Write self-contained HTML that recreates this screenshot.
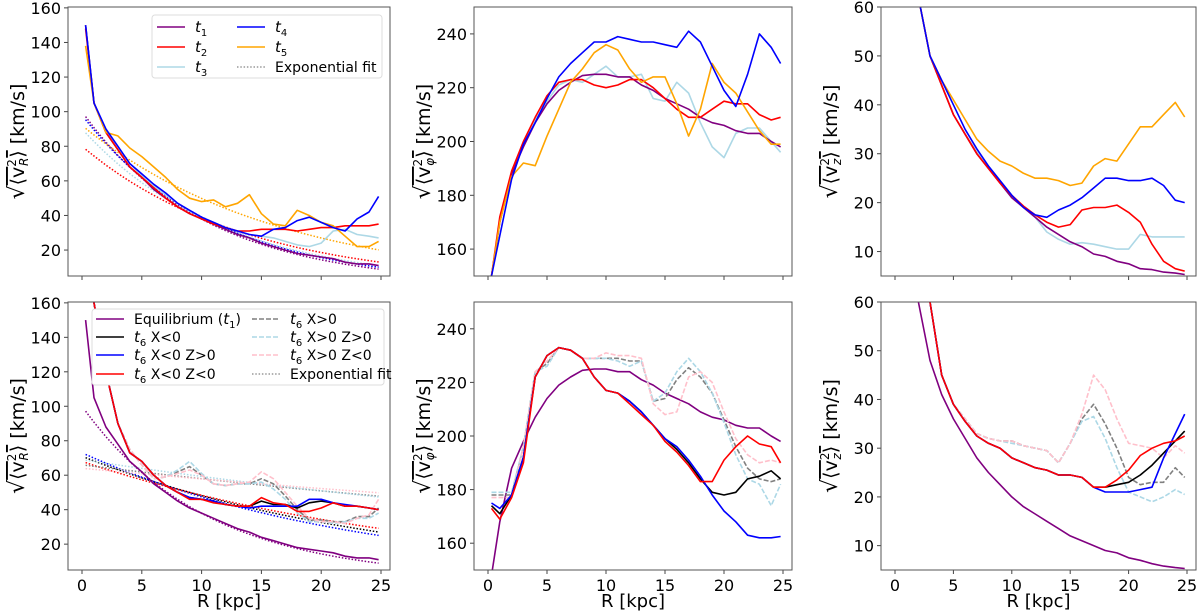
<!DOCTYPE html>
<html><head><meta charset="utf-8"><style>
body{margin:0;background:#fff;}
svg{display:block;font-family:"DejaVu Sans","Liberation Sans",sans-serif;}
</style></head><body>
<svg id="fig" width="1200" height="611" viewBox="0 0 1200 611"></svg>
<script>
const R = [0.3,1,2,3,4,5,6,7,8,9,10,11,12,13,14,15,16,17,18,19,20,21,22,23,24,24.8];
const xTicks = [0,5,10,15,20,25];
const tlT1 = [150,105,88,78,68,62,55,50,45,41,38,35,32,29,27,24,22,20,18,17,16,15,13,12,12,11];
const tlT2 = [148,105,88,78,68,62,56,50,45,41,38,35,33,31,31,32,32,32,31,32,33,33,34,34,34,35];
const tlT3 = [150,105,89,80,70,63,57,52,47,43,39,36,33,31,29,28,27,25,23,22,24,31,32,29,28,27];
const tlT4 = [150,105,90,80,70,64,58,53,47,43,39,36,33,31,29,28,32,33,37,39,36,33,31,38,42,51];
const tlT5 = [138,105,88,86,79,74,68,62,55,50,48,49,45,47,52,41,35,34,43,40,36,34,28,22,22,25];
const tlFitA = [100,80,90,98,92];
const tlFitH = [10.3,13.7,11.8,10.9,16.3];
const tmT1 = [150,170,188,198,207,214,219,222,224.5,225,225,224,224,221,219,216,214,212,209,207,206,204,203,203,200,198];
const tmT2 = [150,172,189,200,209,217,222,223,223,221,220,221,223,223,220,216,212,209,209,212,215,214,214,210,208,209];
const tmT3 = [150,170,188,199,208,215,221,223,222,225,228,224,224,225,216,215,222,218,207,198,194,203,205,205,200,196];
const tmT4 = [150,165,186,199,207,216,224,229,233,237,237,239,238,237,237,236,235,241,237,228,219,213,225,240,235,229];
const tmT5 = [150,170,187,192,191,202,212,222,227,233,236,234,227,222,224,224,214,202,212,229,222,218,211,204,199,199];
const trT1 = [150,95,62,50,44,38,34,30,27,24,21,19,17,15,13.5,12,11,9.5,9,8,7.5,6.5,6.3,5.8,5.6,5.3];
const trT2 = [150,95,62,50,44,38,34,30,27,24,21.5,19.3,17.5,16,15,15.5,18.5,19,19,19.5,18,16,11.5,8,6.5,6];
const trT3 = [150,95,62,50,44,38,34,30.5,27.5,24.5,21.5,19,17,14,12.5,11.5,11.8,11.5,11,10.5,10.5,13.5,13,13,13,13];
const trT4 = [150,95,62,50,45,40,35,31,27.5,24.5,21.5,19,17.5,17,18.5,19.5,21,23,25,25,24.5,24.5,25,23.5,20.5,20];
const trT5 = [150,95,62,50,45,41,37,33,30.5,28.5,27.5,26,25,25,24.5,23.5,24,27.5,29,28.5,32,35.5,35.5,38,40.5,37.5];
const blEq = [150,105,88,78,68,62,55,50,45,41,38,35,32,29,27,24,22,20,18,17,16,15,13,12,12,11];
const blBlk = [200,160,120,90,73,68,60,54,50,47,46,45,43,42,42,45,43,43,41,44,45,44,42,42,41,40];
const blBlu = [200,160,120,90,73,68,60,54,50,47,46,45,43,42,41,42,42,42,42,46,46,44,43,42,41,40];
const blRed = [200,160,120,90,73,68,60,54,50,46,46,44,43,42,42,47,44,43,39,39,41,44,42,42,41,40];
const blGray = [200,160,120,90,75,66,58,59,62,65,60,55,54,55,55,58,55,48,40,34,34,33,33,36,36,41];
const blLb = [200,160,120,90,75,66,58,59,63,68,61,55,54,55,55,56,52,46,38,33,33,32,33,35,35,38];
const blPink = [200,160,120,90,75,66,58,59,61,63,60,55,54,55,56,62,58,50,42,35,33,33,32,35,37,46];
const blFitA = [100,71,73,68,66,69,64];
const blFitH = [10.3,25.7,23.2,29.3,77,66,99];
const bmEq = [148,168,188,198,207,214,219,222,224.5,225,225,224,224,221,219,216,214,212,209,207,206,204,203,203,200,198];
const bmBlk = [174,171,178,192,222,230,233,232,229,222,217,216,213,209,204,199,195,190,184,179,178,179,184,185,187,184];
const bmBlu = [175,173,178,192,222,230,233,232,229,222,217,216,213,209,204,199,196,191,185,178,172,168,163,162,162,162.5];
const bmRed = [173,169,177,190,222,230,233,232,229,222,217,216,212,208,204,198,194,189,183,183,191,196,200,197,196,190];
const bmGray = [178,178,178,196,224,227,233,232,229,229,229,229,228,228,213,214,221,225.5,222,216,206,196,188,184,183,184];
const bmLb = [179,179,179,196,224,226,233,232,229,229,229,228,226,228,213,216,224,229,224,216,205,193,184,182,174,182];
const bmPink = [177,177,177,196,224,228,233,232,229,229,231,230,230,229,212,208,209,222,224,220,209,199,193,190,191,190];
const brEq = [150,90,60,48,41,36,32,28,25,22.5,20,18,16.5,15,13.5,12,11,10,9,8.5,7.5,7,6.3,5.8,5.5,5.3];
const brBlk = [200,130,80,60,45,39,35.5,32.5,31,30,28,27,26,25.5,24.5,24.5,24,22,22,22.5,23,24.5,26.5,29,31.5,33.5];
const brBlu = [200,130,80,60,45,39,35.5,32.5,31,30,28,27,26,25.5,24.5,24.5,24,22,21,21,21,21.5,22,28,33,37];
const brRed = [200,130,80,60,45,39,35.5,32.5,31,30,28,27,26,25.5,24.5,24.5,24,22,22,23.5,25.5,28.5,30,31,31.5,32.5];
const brGray = [200,130,80,60,45,39,36,33,32,31.5,31.5,30.5,30,29.5,27,31,36,39,35,30,24,22.5,23,23,26,24];
const brLb = [200,130,80,60,45,39,36,33,32,31.5,31,30.5,30,29.5,27,31,35.5,36.5,32,26,21,20,19,20,21.5,20.5];
const brPink = [200,130,80,60,45,39,36,33,32,31.5,31.5,30.5,30,29.5,27,31,37,45,42,36,31,30.5,30,28,30.5,29];
const vrTicks = [20,40,60,80,100,120,140,160];
const vpTicks = [160,180,200,220,240];
const vzTicks = [10,20,30,40,50,60];

const NS='http://www.w3.org/2000/svg';
const fig=document.getElementById('fig');
function mk(tag,attrs,parent){const e=document.createElementNS(NS,tag);for(const k in attrs)e.setAttribute(k,attrs[k]);(parent||fig).appendChild(e);return e;}
const C={pur:'#800080',red:'#ff0000',lb:'#add8e6',blu:'#0000ff',org:'#ffa500',blk:'#000000',gray:'#808080',pink:'#ffc0cb'};
let clipN=0;
function panel(name,L,Rt,T,B,ymin,ymax,yt,showX,label,sub){
  const g=mk('g',{});
  
  
  const ppk=(Rt-L-23)/25, x0=L+14;
  const sx=v=>x0+v*ppk, sy=v=>B-(v-ymin)/(ymax-ymin)*(B-T);
  const id='clip'+(clipN++);
  const cp=mk('clipPath',{id:id},g);mk('rect',{x:L,y:T,width:Rt-L,height:B-T},cp);
  const plot=mk('g',{'clip-path':'url(#'+id+')'},g);
  
  
  xTicks.forEach(t=>{const l=mk('line',{x1:sx(t),x2:sx(t),y1:B,y2:B+4,stroke:'#444','stroke-width':1},g);
    
    if(showX){const tx=mk('text',{x:sx(t),y:B+21,'text-anchor':'middle','font-size':16},g);tx.textContent=t;
      }});
  yt.forEach(t=>{const l=mk('line',{x1:L-4,x2:L,y1:sy(t),y2:sy(t),stroke:'#444','stroke-width':1},g);
    
    const tx=mk('text',{x:L-7,y:sy(t)+6,'text-anchor':'end','font-size':16},g);tx.textContent=t;
    });
  const fr=mk('rect',{x:L,y:T,width:Rt-L,height:B-T,fill:'none',stroke:'#555','stroke-width':1},g);
  
  if(showX){const xl=mk('text',{x:(L+Rt)/2,y:607,'text-anchor':'middle','font-size':18},g);xl.textContent='R [kpc]';
    }
  const cy=(T+B)/2, lx=L-44;
  const yl=mk('text',{transform:`translate(${lx},${cy}) rotate(-90)`,'text-anchor':'middle','font-size':19},g);
  
  const a=mk('tspan',{'font-size':22},yl);a.textContent='√';
  const b=mk('tspan',{'text-decoration':'overline'},yl);b.textContent='⟨v';
  const c=mk('tspan',{'font-size':12,dy:-8},yl);c.textContent='2';
  const d=mk('tspan',{'font-size':12,dy:12,dx:-7,'font-style':'italic'},yl);d.textContent=sub;
  const e=mk('tspan',{dy:-4,'text-decoration':'overline'},yl);e.textContent='⟩';
  const f=mk('tspan',{},yl);f.textContent=' [km/s]';
  function line(vals,col,nm,dash,w){const p=vals.map((v,i)=>(i?'L':'M')+sx(R[i]).toFixed(1)+','+sy(v).toFixed(1)).join('');
    const pe=mk('path',{d:p,fill:'none',stroke:col,'stroke-width':w||1.6,'stroke-linejoin':'round'},plot);
    if(dash)pe.setAttribute('stroke-dasharray',dash);
    }
  function fit(A,h,col,nm){const pts=[];for(let i=0;i<R.length;i++){pts.push((i?'L':'M')+sx(R[i]).toFixed(1)+','+sy(A*Math.exp(-R[i]/h)).toFixed(1));}
    const pe=mk('path',{d:pts.join(''),fill:'none',stroke:col,'stroke-width':1.5,'stroke-dasharray':'1.5,1.8'},plot);
    }
  return {line,fit,g};
}
function legendBox(x,y,w,h,name){const r=mk('rect',{x:x,y:y,width:w,height:h,fill:'#fff',stroke:'#ddd','stroke-width':1,rx:3});
  }
function legendEntry(x,y,col,dash,tsub,rest,nm,pre){
  const l=mk('line',{x1:x,x2:x+28,y1:y,y2:y,stroke:col,'stroke-width':1.6});if(dash)l.setAttribute('stroke-dasharray',dash);
  
  const t=mk('text',{x:x+38,y:y+5,'font-size':14});
  
  if(pre){const p0=mk('tspan',{},t);p0.textContent=pre;}
  if(tsub){const a=mk('tspan',{'font-style':'italic','font-size':15},t);a.textContent='t';
    const b=mk('tspan',{'font-size':10,dy:4},t);b.textContent=tsub;
    const c=mk('tspan',{dy:-4},t);c.textContent=rest||'';}
  else t.textContent=rest;
}
const TT=7,TB=276,BT=302,BB=570;
const XL=[[68,390],[474,792],[881,1196]];
let p=panel('panel-vr-top',XL[0][0],XL[0][1],TT,TB,5,160.5,vrTicks,false,'','R');
[tlT1,tlT2,tlT3,tlT4,tlT5].forEach((s,i)=>{const col=[C.pur,C.red,C.lb,C.blu,C.org][i];p.fit(tlFitA[i],tlFitH[i],col,'fit-t'+(i+1));});
p.line(tlT3,C.lb,'line-t3');p.line(tlT1,C.pur,'line-t1');p.line(tlT2,C.red,'line-t2');p.line(tlT5,C.org,'line-t5');p.line(tlT4,C.blu,'line-t4');
legendBox(152,15,230,63,'legend-top');
legendEntry(157,27,C.pur,null,'1','','legend-t1');legendEntry(157,47,C.red,null,'2','','legend-t2');legendEntry(157,67,C.lb,null,'3','','legend-t3');
legendEntry(237,27,C.blu,null,'4','','legend-t4');legendEntry(237,47,C.org,null,'5','','legend-t5');legendEntry(237,67,'#999','1.5,1.8',null,'Exponential fit','legend-exp-fit');
p=panel('panel-vphi-top',XL[1][0],XL[1][1],TT,TB,150,250,vpTicks,false,'','φ');
p.line(tmT3,C.lb,'line-t3');p.line(tmT1,C.pur,'line-t1');p.line(tmT2,C.red,'line-t2');p.line(tmT5,C.org,'line-t5');p.line(tmT4,C.blu,'line-t4');
p=panel('panel-vz-top',XL[2][0],XL[2][1],TT,TB,5,60,vzTicks,false,'','z');
p.line(trT3,C.lb,'line-t3');p.line(trT1,C.pur,'line-t1');p.line(trT2,C.red,'line-t2');p.line(trT5,C.org,'line-t5');p.line(trT4,C.blu,'line-t4');
p=panel('panel-vr-bottom',XL[0][0],XL[0][1],BT,BB,5,160.5,vrTicks,true,'','R');
[C.pur,C.blk,C.blu,C.red,C.gray,C.lb,C.pink].forEach((col,i)=>p.fit(blFitA[i],blFitH[i],col,'fit-'+i));
p.line(blEq,C.pur,'line-equilibrium');
p.line(blGray,C.gray,'line-t6-xpos','5,2');p.line(blLb,C.lb,'line-t6-xpos-zpos','5,2');p.line(blPink,C.pink,'line-t6-xpos-zneg','5,2');
p.line(blBlk,C.blk,'line-t6-xneg');p.line(blBlu,C.blu,'line-t6-xneg-zpos');p.line(blRed,C.red,'line-t6-xneg-zneg');
legendBox(92,309,292,76,'legend-bottom');
legendEntry(96,319,C.pur,null,'1',')','legend-equilibrium','Equilibrium (');
legendEntry(96,337,C.blk,null,'6',' X<0','legend-t6-xneg');
legendEntry(96,355,C.blu,null,'6',' X<0 Z>0','legend-t6-xneg-zpos');
legendEntry(96,374,C.red,null,'6',' X<0 Z<0','legend-t6-xneg-zneg');
legendEntry(252,319,C.gray,'5,2','6',' X>0','legend-t6-xpos');
legendEntry(252,337,C.lb,'5,2','6',' X>0 Z>0','legend-t6-xpos-zpos');
legendEntry(252,355,C.pink,'5,2','6',' X>0 Z<0','legend-t6-xpos-zneg');
legendEntry(252,374,'#999','1.5,1.8',null,'Exponential fit','legend-exp-fit-bottom');
p=panel('panel-vphi-bottom',XL[1][0],XL[1][1],BT,BB,150,250,vpTicks,true,'','φ');
p.line(bmEq,C.pur,'line-equilibrium');
p.line(bmGray,C.gray,'line-t6-xpos','5,2');p.line(bmLb,C.lb,'line-t6-xpos-zpos','5,2');p.line(bmPink,C.pink,'line-t6-xpos-zneg','5,2');
p.line(bmBlk,C.blk,'line-t6-xneg');p.line(bmBlu,C.blu,'line-t6-xneg-zpos');p.line(bmRed,C.red,'line-t6-xneg-zneg');
p=panel('panel-vz-bottom',XL[2][0],XL[2][1],BT,BB,5,60,vzTicks,true,'','z');
p.line(brEq,C.pur,'line-equilibrium');
p.line(brGray,C.gray,'line-t6-xpos','5,2');p.line(brLb,C.lb,'line-t6-xpos-zpos','5,2');p.line(brPink,C.pink,'line-t6-xpos-zneg','5,2');
p.line(brBlk,C.blk,'line-t6-xneg');p.line(brBlu,C.blu,'line-t6-xneg-zpos');p.line(brRed,C.red,'line-t6-xneg-zneg');
</script>
</body></html>
